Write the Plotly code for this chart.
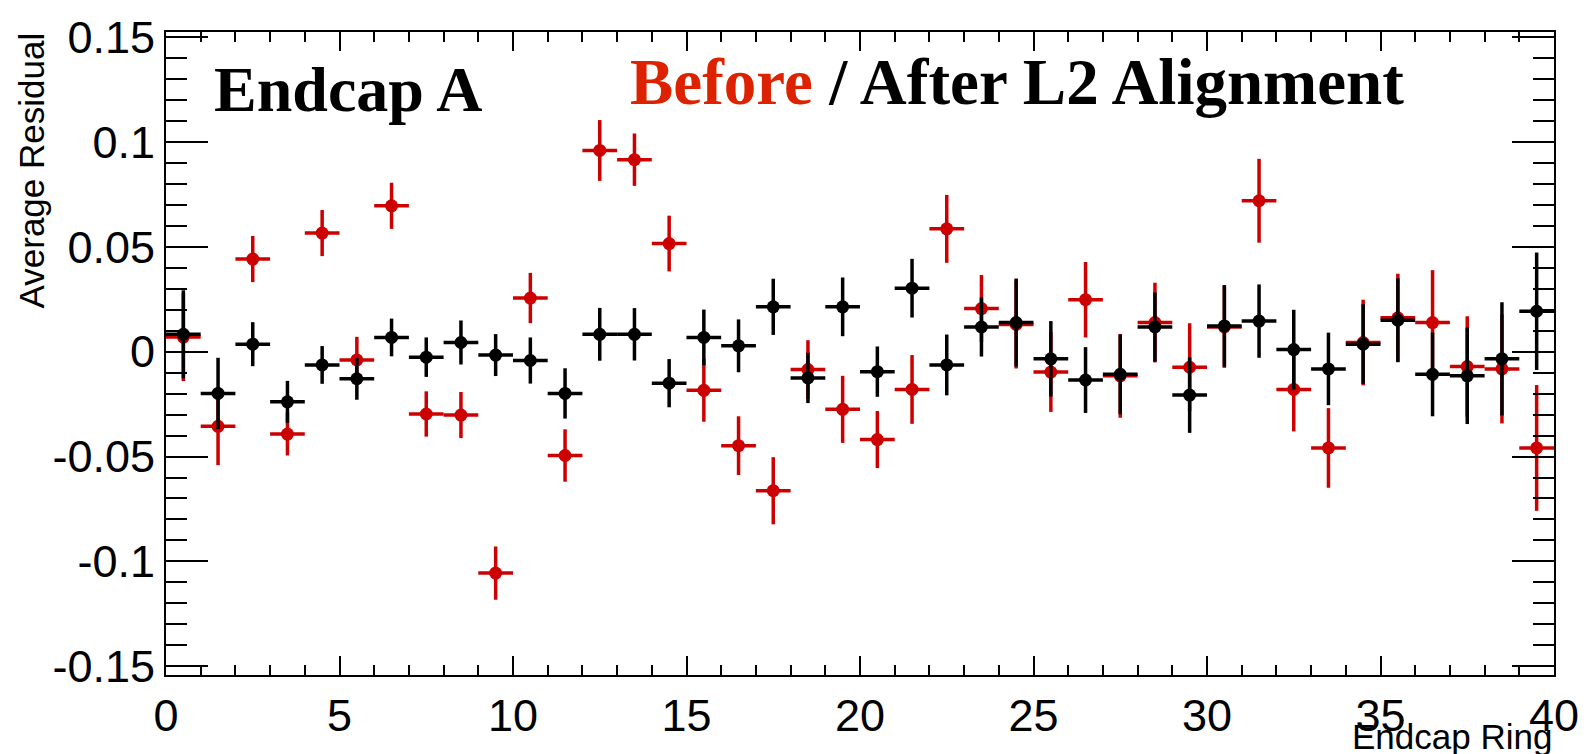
import plotly.graph_objects as go

ring = [i + 0.5 for i in range(40)]

before_val = [0.007, -0.0356, 0.0442, -0.0393, 0.0566, -0.0039, 0.0696, -0.0297, -0.0302, -0.1056,
              0.0256, -0.0495, 0.0960, 0.0916, 0.0516, -0.0184, -0.0448, -0.0663, -0.0085, -0.0275,
              -0.0419, -0.0180, 0.0586, 0.0206, 0.0130, -0.0097, 0.0248, -0.0115, 0.0139, -0.0074,
              0.0118, 0.0720, -0.0180, -0.0459, 0.0044, 0.0162, 0.0139, -0.0071, -0.0082, -0.0459]
before_err = [0.021, 0.0185, 0.011, 0.0102, 0.011, 0.011, 0.011, 0.0108, 0.011, 0.0127,
              0.012, 0.0125, 0.0145, 0.0125, 0.0133, 0.015, 0.014, 0.016, 0.014, 0.016,
              0.0136, 0.0164, 0.0162, 0.016, 0.021, 0.019, 0.018, 0.020, 0.019, 0.021,
              0.0195, 0.020, 0.020, 0.019, 0.0204, 0.021, 0.025, 0.024, 0.026, 0.030]

after_val = [0.0083, -0.0199, 0.0036, -0.0239, -0.0063, -0.0129, 0.0068, -0.0026, 0.0044, -0.0016,
             -0.0042, -0.0199, 0.0083, 0.0083, -0.0150, 0.0068, 0.0028, 0.0214, -0.0125, 0.0214,
             -0.0095, 0.0303, -0.0063, 0.0118, 0.0139, -0.0034, -0.0135, -0.0108, 0.0118, -0.0207,
             0.0123, 0.0146, 0.0010, -0.0082, 0.0036, 0.0150, -0.0108, -0.0115, -0.0034, 0.0193]
after_err = [0.021, 0.017, 0.0105, 0.010, 0.009, 0.010, 0.009, 0.0094, 0.0105, 0.010,
             0.011, 0.012, 0.0126, 0.0125, 0.0115, 0.0133, 0.0126, 0.0134, 0.012, 0.014,
             0.012, 0.014, 0.0145, 0.0141, 0.021, 0.018, 0.0157, 0.019, 0.0165, 0.018,
             0.0195, 0.0175, 0.019, 0.0173, 0.019, 0.020, 0.020, 0.023, 0.027, 0.028]

bin_half = [0.5] * 40

RED = "#CC0000"
BLACK = "#000000"

fig = go.Figure()
for vals, errs, col in [(before_val, before_err, RED), (after_val, after_err, BLACK)]:
    fig.add_trace(go.Scatter(
        x=ring, y=vals, mode="markers",
        marker=dict(color=col, size=13, symbol="circle"),
        error_y=dict(type="data", array=errs, color=col, thickness=3.5, width=0),
        error_x=dict(type="data", array=bin_half, color=col, thickness=3.5, width=0),
        showlegend=False,
    ))

axis_common = dict(
    showgrid=False, zeroline=False, showline=True, linecolor="black", linewidth=2,
    mirror="allticks", ticks="inside", tickcolor="black", tickwidth=2,
    tickfont=dict(family="Liberation Sans, Arial", size=45, color="black"),
)

fig.update_xaxes(range=[0, 40], dtick=5, tick0=0, ticklen=19,
                 minor=dict(dtick=1, ticks="inside", ticklen=10, tickcolor="black", tickwidth=2),
                 **axis_common)
fig.update_yaxes(range=[-0.1542, 0.1525], dtick=0.05, tick0=0, ticklen=42,
                 tickvals=[-0.15, -0.1, -0.05, 0, 0.05, 0.1, 0.15],
                 ticktext=["-0.15", "-0.1", "-0.05", "0", "0.05", "0.1", "0.15"],
                 minor=dict(dtick=0.01, tick0=0, ticks="inside", ticklen=21, tickcolor="black", tickwidth=2),
                 **axis_common)

fig.add_annotation(xref="paper", yref="paper", x=1, y=-0.062, xanchor="right", yanchor="top",
                   text="Endcap Ring", showarrow=False,
                   font=dict(family="Liberation Sans, Arial", size=35, color="black"))
fig.add_annotation(xref="paper", yref="paper", x=-0.097, y=1.003, xanchor="center", yanchor="top",
                   text="Average Residual", showarrow=False, textangle=-90,
                   font=dict(family="Liberation Sans, Arial", size=35, color="black"))
fig.add_annotation(xref="paper", yref="paper", x=0.033, y=0.911, xanchor="left", yanchor="middle",
                   text="<b>Endcap A</b>", showarrow=False,
                   font=dict(family="Liberation Serif, Times New Roman", size=64, color="black"))
fig.add_annotation(xref="paper", yref="paper", x=0.333, y=0.922, xanchor="left", yanchor="middle",
                   text="<b><span style='color:#DD2200'>Before</span> / After L2 Alignment</b>",
                   showarrow=False,
                   font=dict(family="Liberation Serif, Times New Roman", size=65, color="black"))

fig.update_layout(
    width=1591, height=754,
    margin=dict(l=166, r=31, t=24, b=79),
    paper_bgcolor="white", plot_bgcolor="white",
)

fig.write_html("out.html")
